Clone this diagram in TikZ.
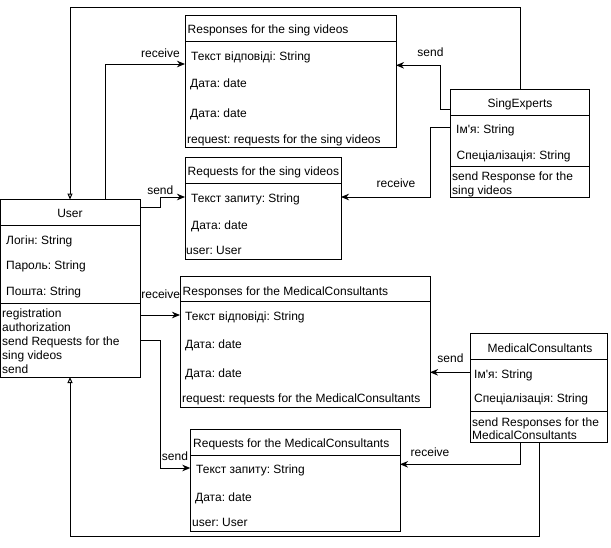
\documentclass[tikz,border=0pt]{standalone}
\usepackage{fontspec}
\setmainfont{Liberation Sans}[Ligatures=TeXOff]
\usetikzlibrary{arrows.meta}
\frenchspacing
\begin{document}
\begin{tikzpicture}[x=1pt,y=-1pt,
  font=\fontsize{12}{14}\selectfont\frenchspacing,
  umlbox/.style={draw,line width=1pt,rectangle,inner sep=0pt,outer sep=0pt,anchor=north west},
  row/.style={anchor=west,inner sep=0pt,text height=10pt,text depth=1pt},
  title/.style={inner sep=0pt,text height=10pt,text depth=1pt},
  lbl/.style={inner sep=0pt,text height=10pt,text depth=1pt},
  sepline/.style={line width=1pt},
  link/.style={line width=1pt,-{Stealth[length=8pt,width=6.5pt,inset=2.5pt]}},
  inherit/.style={line width=1pt,-{Triangle[open,length=6pt,width=5pt]}}]
\useasboundingbox (0,0) rectangle (611,547);

% ---- class boxes ----
\node[umlbox,minimum width=211pt,minimum height=132pt] (rs) at (185,15) {};
\node[umlbox,minimum width=156pt,minimum height=102pt] (rqs) at (185,157) {};
\node[umlbox,minimum width=139.5pt,minimum height=177.5pt] (user) at (0.5,199.5) {};
\node[umlbox,minimum width=250pt,minimum height=131pt] (rm) at (180,276) {};
\node[umlbox,minimum width=139pt,minimum height=108.5pt] (se) at (450.3,89) {};
\node[umlbox,minimum width=137pt,minimum height=109.4pt] (mc) at (470.7,333.3) {};
\node[umlbox,minimum width=209.7pt,minimum height=101.7pt] (rqm) at (190.3,429.3) {};

% ---- compartment separators ----
\draw[sepline] (rs.west |- 0,41.5) -- (rs.east |- 0,41.5);
\draw[sepline] (rqs.west |- 0,183.3) -- (rqs.east |- 0,183.3);
\draw[sepline] (user.west |- 0,225.5) -- (user.east |- 0,225.5);
\draw[sepline] (user.west |- 0,303.5) -- (user.east |- 0,303.5);
\draw[sepline] (rm.west |- 0,301.5) -- (rm.east |- 0,301.5);
\draw[sepline] (se.west |- 0,115) -- (se.east |- 0,115);
\draw[sepline] (se.west |- 0,166.5) -- (se.east |- 0,166.5);
\draw[sepline] (mc.west |- 0,359) -- (mc.east |- 0,359);
\draw[sepline] (mc.west |- 0,411.5) -- (mc.east |- 0,411.5);
\draw[sepline] (rqm.west |- 0,455.5) -- (rqm.east |- 0,455.5);

% ---- Responses for the sing videos ----
\node[row] (rsT) at (187.5,28.5) {Responses for the sing videos};
\node[row] (rs1) at (191,55.5) {Текст відповіді: String};
\node[row] (rs2) at (190,82.5) {Дата: date};
\node[row] (rs3) at (190,112.5) {Дата: date};
\node[row] (rs4) at (187,138.5) {request: requests for the sing videos};

% ---- Requests for the sing videos ----
\node[row] (rqsT) at (187.5,171) {Requests for the sing videos};
\node[row] (rqs1) at (191,197.5) {Текст запиту: String};
\node[row] (rqs2) at (191,224.5) {Дата: date};
\node[row] (rqs3) at (186,250) {user: User};

% ---- User ----
\node[title] (userT) at (70,212.5) {User};
\node[row] (user1) at (6,239.5) {Логін: String};
\node[row] (user2) at (6,265) {Пароль: String};
\node[row] (user3) at (6,291) {Пошта: String};
\node[row] (user4) at (2,312.5) {registration};
\node[row] (user5) at (2,326.5) {authorization};
\node[row] (user6) at (2,340.5) {send Requests for the};
\node[row] (user7) at (2,354.5) {sing videos};
\node[row] (user8) at (2,368.5) {send};

% ---- Responses for the MedicalConsultants ----
\node[row] (rmT) at (182.5,291) {Responses for the MedicalConsultants};
\node[row] (rm1) at (185,315.5) {Текст відповіді: String};
\node[row] (rm2) at (185,343.5) {Дата: date};
\node[row] (rm3) at (185,373) {Дата: date};
\node[row] (rm4) at (182,398) {request: requests for the MedicalConsultants};

% ---- SingExperts ----
\node[title] (seT) at (520,102.5) {SingExperts};
\node[row] (se1) at (456,128.5) {Ім'я: String};
\node[row] (se2) at (456.5,155) {Спеціалізація: String};
\node[row] (se3) at (452,176) {send Response for the};
\node[row] (se4) at (452,190) {sing videos};

% ---- MedicalConsultants ----
\node[title] (mcT) at (540,347.5) {MedicalConsultants};
\node[row] (mc1) at (474,373.5) {Ім'я: String};
\node[row] (mc2) at (474,398) {Спеціалізація: String};
\node[row] (mc3) at (472,422) {send Responses for the};
\node[row] (mc4) at (472,434.5) {MedicalConsultants};

% ---- Requests for the MedicalConsultants ----
\node[row] (rqmT) at (193,442.5) {Requests for the MedicalConsultants};
\node[row] (rqm1) at (196,469) {Текст запиту: String};
\node[row] (rqm2) at (195,497) {Дата: date};
\node[row] (rqm3) at (192,522) {user: User};

% ---- connectors ----
\coordinate (topbend) at (70,7);
\coordinate (botbend) at (70,536.7);
\draw[inherit] (se.north -| 520.3,0) |- (topbend) -- (user.north -| 70,0);
\draw[inherit] (mc.south -| 539,0) |- (botbend) -- (user.south -| 70,0);

\draw[link] (user.north -| 105.3,0) |- (rs.west |- 0,64);
\draw[link] (user.east |- 0,207) -| (160.3,197) -- (rqs.west |- 0,197);
\draw[link] (se.west |- 0,109) -| (440,65.3) -- (rs.east |- 0,65.3);
\draw[link] (se.west |- 0,127.5) -| (430.3,197) -- (rqs.east |- 0,197);
\draw[link] (user.east |- 0,315) -- (rm.west |- 0,315);
\draw[link] (user.east |- 0,340.7) -| (160.7,468) -- (rqm.west |- 0,468);
\draw[link] (mc.west |- 0,372.3) -- (rm.east |- 0,372.3);
\draw[link] (mc.south -| 520,0) |- (rqm.east |- 0,464.3);

% ---- connector labels ----
\node[lbl] (l1) at (160.5,52.5) {receive};
\node[lbl] (l2) at (160.3,189.5) {send};
\node[lbl] (l3) at (430.5,52) {send};
\node[lbl] (l4) at (396,183) {receive};
\node[lbl] (l5) at (160.7,294) {receive};
\node[lbl] (l6) at (175,455.5) {send};
\node[lbl] (l7) at (450.5,357.5) {send};
\node[lbl] (l8) at (430,451.5) {receive};
\end{tikzpicture}
\end{document}
